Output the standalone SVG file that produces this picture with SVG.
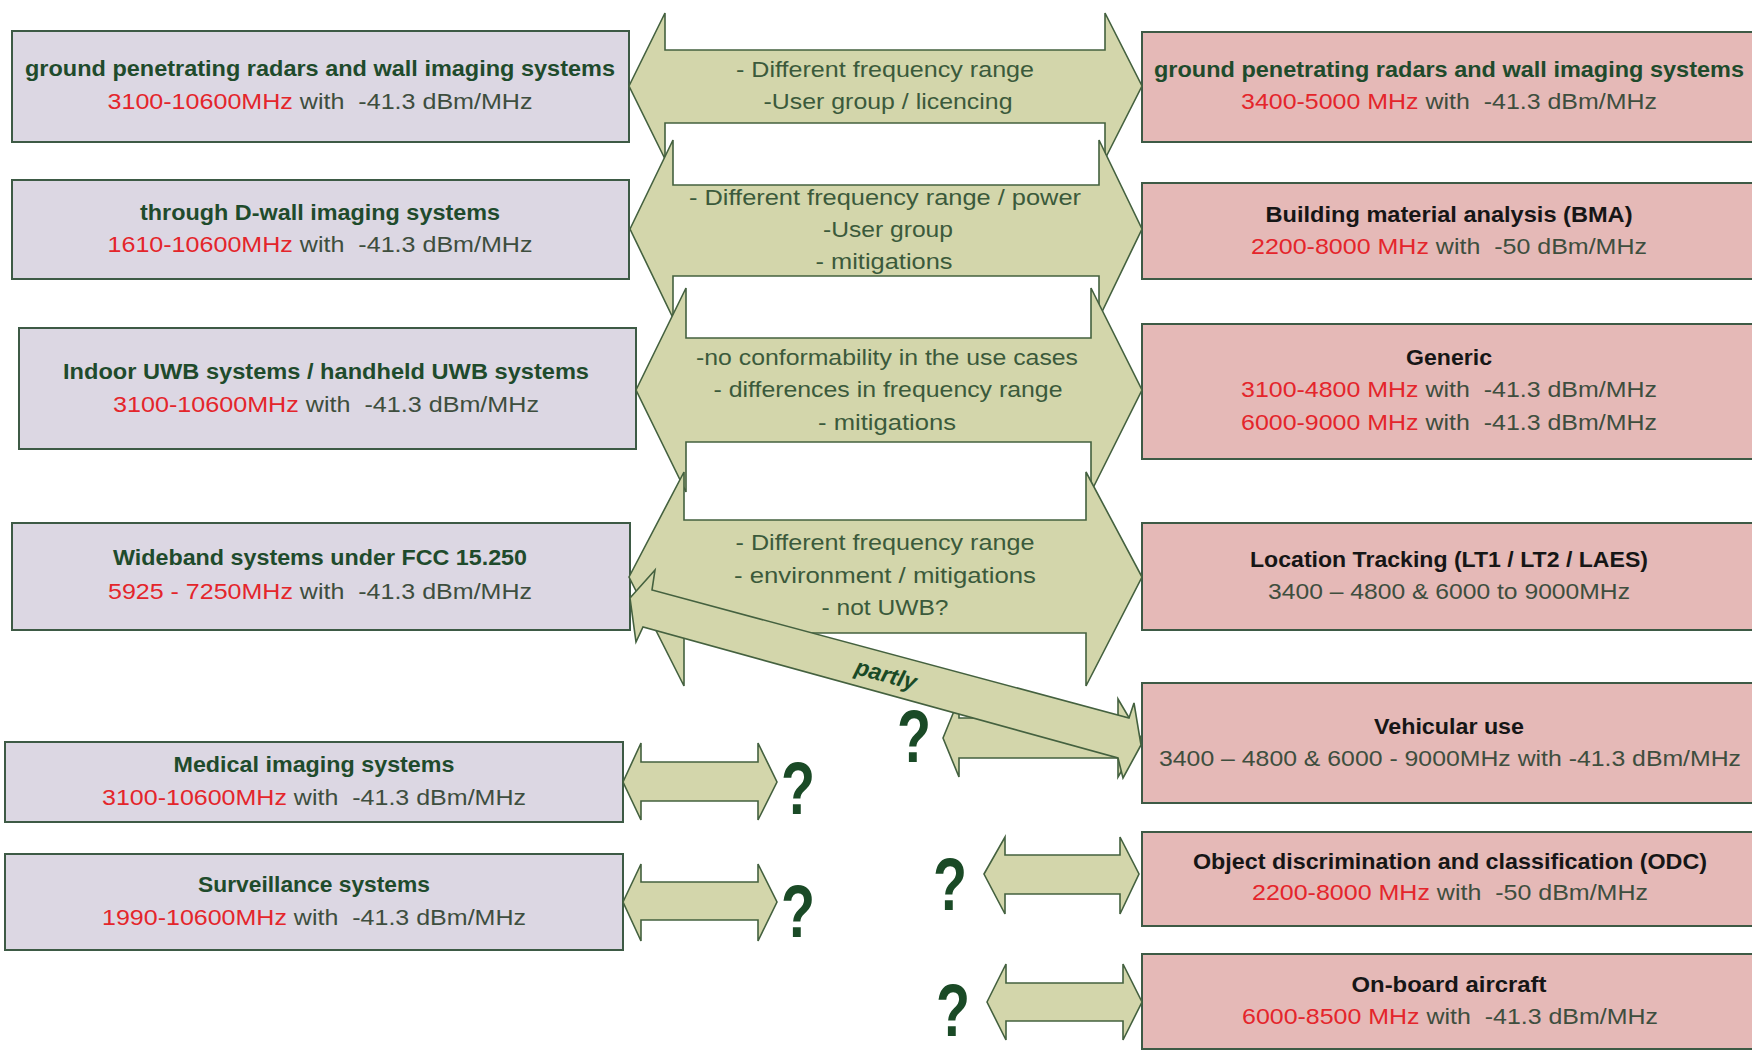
<svg xmlns="http://www.w3.org/2000/svg" width="1752" height="1050" viewBox="0 0 1752 1050">
<defs>
<style>
.bl{fill:#DCD7E3;stroke:#3D5A45;stroke-width:2}
.br{fill:#E5B9B7;stroke:#3D5A45;stroke-width:2}
.ar{fill:#D3D6AB;stroke:#44613F;stroke-width:1.6;stroke-linejoin:miter}
text{font-family:"Liberation Sans",Arial,sans-serif;font-size:22px;text-anchor:middle;white-space:pre}
.t{font-weight:bold;fill:#1F4B2C}
.tk{font-weight:bold;fill:#161616}
.v{fill:#3E4E3E}
.r{fill:#E4252B}
.at{fill:#3B5A3B}
.q{font-weight:bold;font-size:74px;fill:#1A4A26}
.p{font-weight:bold;font-style:italic;font-size:23px;fill:#1A4A26}
</style>
</defs>
<rect width="1752" height="1050" fill="#FFFFFF"/>

<g id="left-gpr">
<rect class="bl" x="12" y="31" width="617" height="111"/>
<text class="t" x="320" y="76" textLength="590" lengthAdjust="spacingAndGlyphs">ground penetrating radars and wall imaging systems</text>
<text class="v" x="320" y="109" textLength="425" lengthAdjust="spacingAndGlyphs"><tspan class="r">3100-10600MHz</tspan> with  -41.3 dBm/MHz</text>
</g>
<g id="left-dwall">
<rect class="bl" x="12" y="180" width="617" height="99"/>
<text class="t" x="320" y="220" textLength="360" lengthAdjust="spacingAndGlyphs">through D-wall imaging systems</text>
<text class="v" x="320" y="252" textLength="425" lengthAdjust="spacingAndGlyphs"><tspan class="r">1610-10600MHz</tspan> with  -41.3 dBm/MHz</text>
</g>
<g id="left-indoor">
<rect class="bl" x="19" y="328" width="617" height="121"/>
<text class="t" x="326" y="379" textLength="526" lengthAdjust="spacingAndGlyphs">Indoor UWB systems / handheld UWB systems</text>
<text class="v" x="326" y="412" textLength="426" lengthAdjust="spacingAndGlyphs"><tspan class="r">3100-10600MHz</tspan> with  -41.3 dBm/MHz</text>
</g>
<g id="left-wideband">
<rect class="bl" x="12" y="523" width="618" height="107"/>
<text class="t" x="320" y="565" textLength="414" lengthAdjust="spacingAndGlyphs">Wideband systems under FCC 15.250</text>
<text class="v" x="320" y="599" textLength="424" lengthAdjust="spacingAndGlyphs"><tspan class="r">5925 - 7250MHz</tspan> with  -41.3 dBm/MHz</text>
</g>
<g id="left-medical">
<rect class="bl" x="5" y="742" width="618" height="80"/>
<text class="t" x="314" y="772" textLength="281" lengthAdjust="spacingAndGlyphs">Medical imaging systems</text>
<text class="v" x="314" y="805" textLength="424" lengthAdjust="spacingAndGlyphs"><tspan class="r">3100-10600MHz</tspan> with  -41.3 dBm/MHz</text>
</g>
<g id="left-surveillance">
<rect class="bl" x="5" y="854" width="618" height="96"/>
<text class="t" x="314" y="892" textLength="232" lengthAdjust="spacingAndGlyphs">Surveillance systems</text>
<text class="v" x="314" y="925" textLength="424" lengthAdjust="spacingAndGlyphs"><tspan class="r">1990-10600MHz</tspan> with  -41.3 dBm/MHz</text>
</g>

<g id="right-gpr">
<rect class="br" x="1142" y="32" width="620" height="110"/>
<text class="t" x="1449" y="77" textLength="590" lengthAdjust="spacingAndGlyphs">ground penetrating radars and wall imaging systems</text>
<text class="v" x="1449" y="109" textLength="416" lengthAdjust="spacingAndGlyphs"><tspan class="r">3400-5000 MHz</tspan> with  -41.3 dBm/MHz</text>
</g>
<g id="right-bma">
<rect class="br" x="1142" y="183" width="620" height="96"/>
<text class="tk" x="1449" y="222" textLength="367" lengthAdjust="spacingAndGlyphs">Building material analysis (BMA)</text>
<text class="v" x="1449" y="254" textLength="396" lengthAdjust="spacingAndGlyphs"><tspan class="r">2200-8000 MHz</tspan> with  -50 dBm/MHz</text>
</g>
<g id="right-generic">
<rect class="br" x="1142" y="324" width="620" height="135"/>
<text class="tk" x="1449" y="365" textLength="86" lengthAdjust="spacingAndGlyphs">Generic</text>
<text class="v" x="1449" y="397" textLength="416" lengthAdjust="spacingAndGlyphs"><tspan class="r">3100-4800 MHz</tspan> with  -41.3 dBm/MHz</text>
<text class="v" x="1449" y="430" textLength="416" lengthAdjust="spacingAndGlyphs"><tspan class="r">6000-9000 MHz</tspan> with  -41.3 dBm/MHz</text>
</g>
<g id="right-location">
<rect class="br" x="1142" y="523" width="620" height="107"/>
<text class="tk" x="1449" y="567" textLength="398" lengthAdjust="spacingAndGlyphs">Location Tracking (LT1 / LT2 / LAES)</text>
<text class="v" x="1449" y="599" textLength="362" lengthAdjust="spacingAndGlyphs">3400 – 4800 &amp; 6000 to 9000MHz</text>
</g>
<g id="right-vehicular">
<rect class="br" x="1142" y="683" width="620" height="120"/>
<text class="tk" x="1449" y="734" textLength="150" lengthAdjust="spacingAndGlyphs">Vehicular use</text>
<text class="v" x="1450" y="766" textLength="582" lengthAdjust="spacingAndGlyphs">3400 – 4800 &amp; 6000 - 9000MHz with -41.3 dBm/MHz</text>
</g>
<g id="right-odc">
<rect class="br" x="1142" y="832" width="620" height="94"/>
<text class="tk" x="1450" y="869" textLength="514" lengthAdjust="spacingAndGlyphs">Object discrimination and classification (ODC)</text>
<text class="v" x="1450" y="900" textLength="396" lengthAdjust="spacingAndGlyphs"><tspan class="r">2200-8000 MHz</tspan> with  -50 dBm/MHz</text>
</g>
<g id="right-aircraft">
<rect class="br" x="1142" y="954" width="620" height="95"/>
<text class="tk" x="1449" y="992" textLength="195" lengthAdjust="spacingAndGlyphs">On-board aircraft</text>
<text class="v" x="1450" y="1024" textLength="416" lengthAdjust="spacingAndGlyphs"><tspan class="r">6000-8500 MHz</tspan> with  -41.3 dBm/MHz</text>
</g>

<g id="connectors">
<polygon class="ar" points="629,86 665,13 665,50 1105,50 1105,13 1142,86 1105,159 1105,123 665,123 665,159"/>
<polygon class="ar" points="630,229 673,140 673,185 1099,185 1099,140 1142,229 1099,318 1099,276 673,276 673,318"/>
<polygon class="ar" points="636,390 686,288 686,338 1091,338 1091,288 1142,390 1091,492 1091,442 686,442 686,492"/>
<polygon class="ar" points="629,577 684,472 684,520 1086,520 1086,472 1142,577 1086,686 1086,633 684,633 684,686"/>
<polygon class="ar" points="943,738 959,699 959,718 1118,718 1118,699 1141,738 1118,777 1118,758 959,758 959,777"/>
<polygon class="ar" points="630,598 655,570 652,590 1129,718 1134,703 1141,745 1123,778 1118,758 643,627 636,642"/>
<polygon class="ar" points="623,782 641,743 641,762 758,762 758,743 777,782 758,820 758,801 641,801 641,820"/>
<polygon class="ar" points="623,902 641,864 641,882 758,882 758,864 777,902 758,941 758,920 641,920 641,941"/>
<polygon class="ar" points="984,874 1005,837 1005,855 1120,855 1120,837 1139,874 1120,914 1120,894 1005,894 1005,914"/>
<polygon class="ar" points="987,1002 1006,964 1006,983 1123,983 1123,964 1142,1002 1123,1040 1123,1021 1006,1021 1006,1040"/>

<text class="at" x="885" y="77" textLength="298" lengthAdjust="spacingAndGlyphs">- Different frequency range</text>
<text class="at" x="888" y="109" textLength="249" lengthAdjust="spacingAndGlyphs">-User group / licencing</text>
<text class="at" x="885" y="205" textLength="392" lengthAdjust="spacingAndGlyphs">- Different frequency range / power</text>
<text class="at" x="888" y="237" textLength="130" lengthAdjust="spacingAndGlyphs">-User group</text>
<text class="at" x="884" y="269" textLength="137" lengthAdjust="spacingAndGlyphs">- mitigations</text>
<text class="at" x="887" y="365" textLength="382" lengthAdjust="spacingAndGlyphs">-no conformability in the use cases</text>
<text class="at" x="888" y="397" textLength="349" lengthAdjust="spacingAndGlyphs">- differences in frequency range</text>
<text class="at" x="887" y="430" textLength="138" lengthAdjust="spacingAndGlyphs">- mitigations</text>
<text class="at" x="885" y="550" textLength="299" lengthAdjust="spacingAndGlyphs">- Different frequency range</text>
<text class="at" x="885" y="583" textLength="302" lengthAdjust="spacingAndGlyphs">- environment / mitigations</text>
<text class="at" x="885" y="615" textLength="127" lengthAdjust="spacingAndGlyphs">- not UWB?</text>
<text class="p" transform="translate(884,682) rotate(15.2)" x="0" y="0">partly</text>

<text class="q" x="914" y="762" textLength="34" lengthAdjust="spacingAndGlyphs">?</text>
<text class="q" x="798" y="814" textLength="34" lengthAdjust="spacingAndGlyphs">?</text>
<text class="q" x="798" y="937" textLength="34" lengthAdjust="spacingAndGlyphs">?</text>
<text class="q" x="950" y="910" textLength="34" lengthAdjust="spacingAndGlyphs">?</text>
<text class="q" x="953" y="1036" textLength="34" lengthAdjust="spacingAndGlyphs">?</text>
</g>
</svg>
